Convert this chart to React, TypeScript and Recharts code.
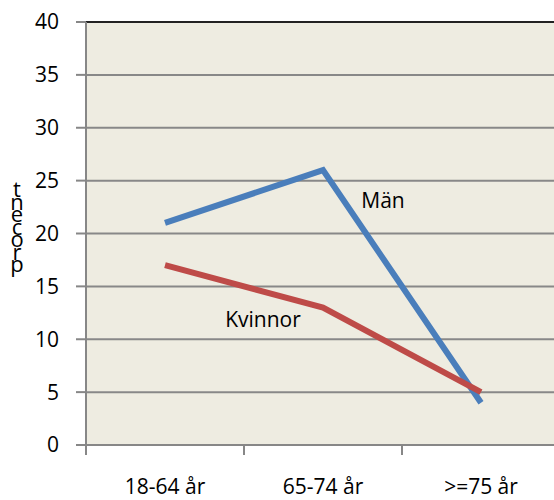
import { LineChart, Line, XAxis, YAxis, CartesianGrid, ReferenceLine, LabelList } from "recharts";

const categories = ["18-64 år", "65-74 år", ">=75 år"];
const men = [21, 26, 4];
const women = [17, 13, 5];
const yTicks = [0, 5, 10, 15, 20, 25, 30, 35, 40];
const yTitle = "procent";

const data = categories.map((name, i) => ({ name, men: men[i], women: women[i] }));

const FONT = "'Open Sans', sans-serif";
const FS = 21;
const W = 570;
const H = 500;
const LEFT = 86;
const RIGHT = 10;
const BAND = (W - LEFT - RIGHT) / categories.length;

function XTick(props: any) {
  const { x, y, payload } = props;
  const bx = x - BAND / 2;
  return (
    <g>
      <line x1={bx} y1={y - 8} x2={bx} y2={y + 2} stroke="#878787" strokeWidth={2} />
      <text x={x} y={y + 41} textAnchor="middle" fontFamily={FONT} fontSize={FS} fill="#000">
        {payload.value}
      </text>
    </g>
  );
}

// the axis title: letters stacked bottom-up and squeezed, like in the original
function YTitle() {
  const letters = yTitle.split("").reverse();
  return (
    <svg width={34} height={500} style={{ position: "absolute", left: 0, top: 0 }}>
      <text x={17} y={197} textAnchor="middle" fontFamily={FONT} fontSize={22} fill="#000">
        {letters.map((ch, i) => (
          <tspan key={i} x={17} dy={i === 0 ? 0 : 12.5}>
            {ch}
          </tspan>
        ))}
      </text>
    </svg>
  );
}

const seriesLabel = (text: string, dx: number, dy: number) => (p: any) => {
  if (p.index !== 1) return null;
  return (
    <text x={p.x + dx} y={p.y + dy} textAnchor="middle" fontFamily={FONT} fontSize={FS} fill="#000">
      {text}
    </text>
  );
};

export default function App() {
  return (
    <div style={{ position: "absolute", left: 0, top: 0, width: 554, height: 500, overflow: "hidden", background: "#fff" }}>
      <LineChart width={W} height={H} data={data} margin={{ top: 22, right: RIGHT, bottom: 0, left: 0 }}>
        <CartesianGrid vertical={false} fill="#EEECE1" stroke="#888" strokeWidth={2} />
        <XAxis
          dataKey="name"
          scale="band"
          height={55}
          axisLine={{ stroke: "#878787", strokeWidth: 2 }}
          tickLine={false}
          tick={<XTick />}
          interval={0}
        />
        <YAxis
          width={LEFT}
          domain={[0, 40]}
          ticks={yTicks}
          interval={0}
          tickSize={10}
          tickMargin={17}
          axisLine={{ stroke: "#878787", strokeWidth: 2 }}
          tickLine={{ stroke: "#878787", strokeWidth: 2 }}
          tick={{ fontFamily: FONT, fontSize: FS, fill: "#000" }}
        />
        <ReferenceLine y={40} stroke="#000" strokeWidth={1.5} />
        <Line
          dataKey="men"
          stroke="#4A7EBB"
          strokeWidth={6}
          dot={false}
          isAnimationActive={false}
        >
          <LabelList dataKey="men" content={seriesLabel("Män", 60, 38)} />
        </Line>
        <Line
          dataKey="women"
          stroke="#BE4B48"
          strokeWidth={6}
          dot={false}
          isAnimationActive={false}
        >
          <LabelList dataKey="women" content={seriesLabel("Kvinnor", -60, 19)} />
        </Line>
      </LineChart>
      <YTitle />
    </div>
  );
}
